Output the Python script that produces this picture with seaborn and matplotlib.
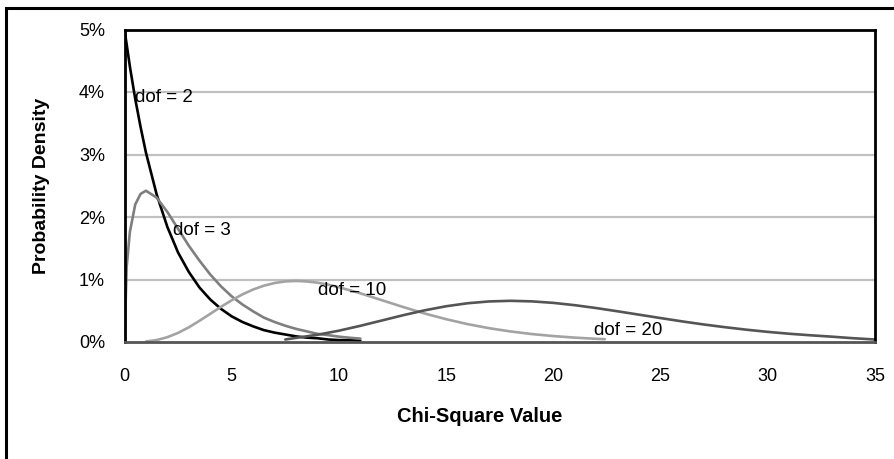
import matplotlib
matplotlib.use("Agg")
import matplotlib.pyplot as plt
import matplotlib.patches as mpatches
from matplotlib.ticker import FuncFormatter
import seaborn as sns
import pandas as pd

# ---- data (x = chi-square value, y = probability density in %) ----
x_dof2 = [0, 0.25, 0.5, 0.75, 1, 1.5, 2, 2.5, 3, 3.5, 4, 4.5, 5, 5.5, 6, 6.5, 7, 7.5,
          8, 8.5, 9, 9.5, 10, 10.5, 11]
y_dof2 = [5.00, 4.41, 3.89, 3.44, 3.03, 2.36, 1.84, 1.43, 1.12, 0.87, 0.68, 0.53, 0.41,
          0.32, 0.25, 0.19, 0.15, 0.12, 0.09, 0.07, 0.06, 0.04, 0.03, 0.03, 0.02]

x_dof3 = [0, 0.1, 0.25, 0.5, 0.75, 1, 1.5, 2, 2.5, 3, 3.5, 4, 4.5, 5, 5.5, 6, 6.5, 7,
          7.5, 8, 8.5, 9, 9.5, 10, 10.5, 11]
y_dof3 = [0.00, 1.20, 1.76, 2.20, 2.37, 2.42, 2.31, 2.08, 1.81, 1.54, 1.30, 1.08, 0.89,
          0.73, 0.60, 0.49, 0.39, 0.32, 0.26, 0.21, 0.17, 0.13, 0.11, 0.085, 0.068, 0.054]

x_dof10 = [1, 1.5, 2, 2.5, 3, 3.5, 4, 4.5, 5, 5.5, 6, 6.5, 7, 7.5, 8, 8.5, 9, 9.5, 10,
           11, 12, 13, 14, 15, 16, 17, 18, 19, 20, 21, 22, 22.4]
y_dof10 = [0.008, 0.031, 0.077, 0.146, 0.235, 0.340, 0.451, 0.563, 0.668, 0.762, 0.840,
           0.901, 0.944, 0.969, 0.977, 0.969, 0.949, 0.918, 0.877, 0.779, 0.669, 0.559,
           0.456, 0.365, 0.286, 0.221, 0.169, 0.127, 0.095, 0.070, 0.051, 0.045]

x_dof20 = [7.5, 8, 9, 10, 11, 12, 13, 14, 15, 16, 17, 18, 19, 20, 21, 22, 23, 24, 25,
           26, 27, 28, 29, 30, 31, 32, 33, 34, 35]
y_dof20 = [0.040, 0.066, 0.116, 0.181, 0.259, 0.344, 0.429, 0.507, 0.572, 0.620, 0.649,
           0.659, 0.650, 0.626, 0.589, 0.543, 0.491, 0.437, 0.383, 0.330, 0.281, 0.237,
           0.197, 0.162, 0.132, 0.107, 0.085, 0.060, 0.040]

series_names = ["dof = 2", "dof = 3", "dof = 10", "dof = 20"]
series_colors = ["#000000", "#7f7f7f", "#a3a3a3", "#555555"]
x_ticks = [0, 5, 10, 15, 20, 25, 30, 35]
y_ticks = [0, 1, 2, 3, 4, 5]

frames = []
for name, xs, ys in zip(series_names,
                        [x_dof2, x_dof3, x_dof10, x_dof20],
                        [y_dof2, y_dof3, y_dof10, y_dof20]):
    frames.append(pd.DataFrame({"x": xs, "y": ys, "series": name}))
df = pd.concat(frames, ignore_index=True)

sns.set_theme(style="white")
plt.rcParams["font.family"] = ["Liberation Sans", "DejaVu Sans"]
plt.rcParams["text.color"] = "black"
plt.rcParams["axes.labelcolor"] = "black"

W, H = 894, 459
fig = plt.figure(figsize=(W / 100, H / 100), dpi=100)
ax = fig.add_axes([124.5 / W, 1 - 342 / H, (875 - 124.5) / W, (342 - 29.5) / H])

# gridlines
for yt in y_ticks[1:-1]:
    ax.axhline(yt, color="#c0c0c0", lw=1.6, zorder=0)

sns.lineplot(data=df, x="x", y="y", hue="series",
             palette=dict(zip(series_names, series_colors)),
             hue_order=series_names, lw=1.9, ax=ax, legend=False, sort=True,
             estimator=None)

ax.set_xlim(0, 35)
ax.set_ylim(0, 5)
ax.set_xticks(x_ticks)
ax.set_yticks(y_ticks)
ax.yaxis.set_major_formatter(FuncFormatter(lambda v, p: f"{int(v)}%"))
ax.tick_params(axis="both", which="major", direction="out", length=6, width=1.3,
               color="black", labelsize=13, labelcolor="black")
ax.tick_params(axis="y", pad=8)
ax.tick_params(axis="x", pad=13)

for side in ["left", "top", "right"]:
    ax.spines[side].set_color("black")
    ax.spines[side].set_linewidth(2)
ax.spines["bottom"].set_color("#555555")
ax.spines["bottom"].set_linewidth(2)

ax.set_xlabel("Chi-Square Value", fontsize=14.5, fontweight="bold", color="black")
ax.set_ylabel("Probability Density", fontsize=14, fontweight="bold", color="black")
# place axis titles as in the reference (pixel centres)
ax.xaxis.set_label_coords((479.5 - 124.5) / (875 - 124.5), -(417 - 342) / (342 - 29.5))
ax.yaxis.set_label_coords(-(124.5 - 42) / (875 - 124.5), 0.5)
ax.xaxis.label.set_va("center")
ax.yaxis.label.set_va("center")

# series labels
label_pos = [(0.49, 3.92), (2.25, 1.79), (9.03, 0.83), (21.91, 0.18)]
for name, (lx, ly) in zip(series_names, label_pos):
    ax.text(lx, ly, name, fontsize=13.5, color="black", ha="left", va="center")

# outer frame (clipped on right and bottom as in the reference)
top = 1 - 8.5 / H
fig.patches.append(mpatches.Rectangle((5.5 / W, -0.2), 1.5, top + 0.2,
                                      transform=fig.transFigure, fill=False,
                                      edgecolor="black", lw=2.2))

fig.savefig("out.png", dpi=100)
